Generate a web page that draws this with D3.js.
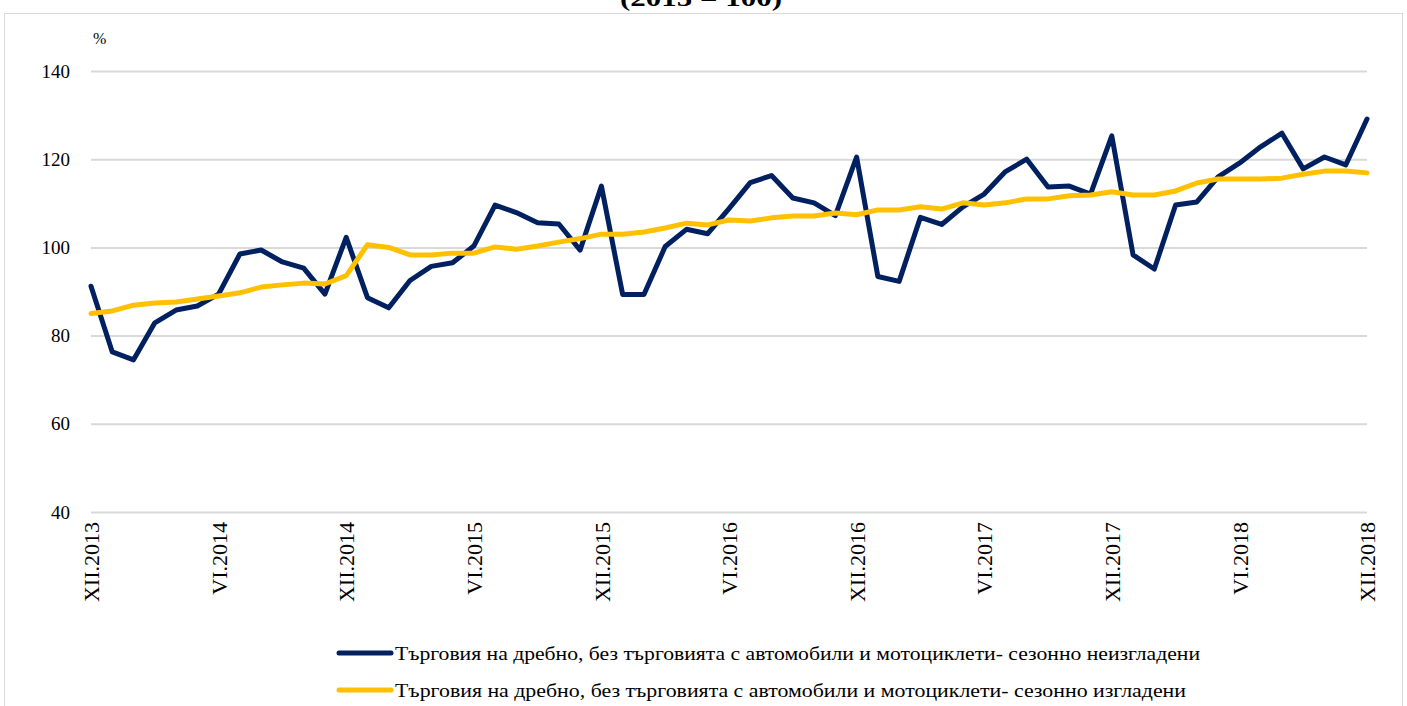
<!DOCTYPE html>
<html>
<head>
<meta charset="utf-8">
<script src="https://cdn.jsdelivr.net/npm/d3@7"></script>
<style>
  html, body { margin: 0; padding: 0; background: #fff; }
  svg { display: block; }
  text { font-family: "Liberation Serif", "Times New Roman", serif; fill: #000; }
</style>
</head>
<body>
<svg id="chart" width="1407" height="706"></svg>
<script>
// ---- data ----
const months = ["XII.2013","I.2014","II.2014","III.2014","IV.2014","V.2014","VI.2014","VII.2014","VIII.2014","IX.2014","X.2014","XI.2014",
  "XII.2014","I.2015","II.2015","III.2015","IV.2015","V.2015","VI.2015","VII.2015","VIII.2015","IX.2015","X.2015","XI.2015",
  "XII.2015","I.2016","II.2016","III.2016","IV.2016","V.2016","VI.2016","VII.2016","VIII.2016","IX.2016","X.2016","XI.2016",
  "XII.2016","I.2017","II.2017","III.2017","IV.2017","V.2017","VI.2017","VII.2017","VIII.2017","IX.2017","X.2017","XI.2017",
  "XII.2017","I.2018","II.2018","III.2018","IV.2018","V.2018","VI.2018","VII.2018","VIII.2018","IX.2018","X.2018","XI.2018","XII.2018"];
const unadjusted = [91.2,76.3,74.5,82.9,85.8,86.7,89.4,98.5,99.4,96.7,95.3,89.4,
  102.3,88.6,86.3,92.5,95.7,96.5,100.3,109.6,107.9,105.6,105.3,99.4,
  113.9,89.3,89.3,100.2,104.1,103.1,108.8,114.7,116.3,111.2,110.1,107.2,
  120.5,93.4,92.3,106.8,105.2,109.2,112.1,117.2,120.0,113.7,113.9,112.1,
  125.3,98.3,95.1,109.6,110.3,116.0,119.1,122.8,125.9,117.8,120.5,118.7,129.1];
const adjusted = [85.0,85.6,86.9,87.4,87.6,88.3,89.0,89.7,91.0,91.5,91.9,91.7,
  93.6,100.6,100.0,98.3,98.3,98.7,98.7,100.1,99.6,100.3,101.2,102.0,
  103.0,103.0,103.5,104.4,105.5,105.1,106.2,106.0,106.7,107.1,107.1,107.8,
  107.4,108.5,108.5,109.2,108.7,110.1,109.6,110.1,111.0,111.0,111.7,111.9,
  112.6,111.9,111.9,112.8,114.6,115.5,115.5,115.5,115.7,116.6,117.3,117.3,116.9];
const yTicks = [40,60,80,100,120,140];
const xTickLabels = ["XII.2013","VI.2014","XII.2014","VI.2015","XII.2015","VI.2016","XII.2016","VI.2017","XII.2017","VI.2018","XII.2018"];
const seriesNames = [
  "Търговия на дребно, без търговията с автомобили и мотоциклети- сезонно неизгладени",
  "Търговия на дребно, без търговията с автомобили и мотоциклети- сезонно изгладени"
];
const title = "(2015 = 100)";
const unit = "%";

// ---- drawing ----
const svg = d3.select("#chart");
const colors = ["#002060", "#FFC000"];

// outer border
svg.append("rect").attr("x", 4.5).attr("y", 13.5).attr("width", 1398).attr("height", 800)
  .attr("fill", "none").attr("stroke", "#d9d9d9").attr("stroke-width", 1);

// title (top partly outside the frame, as in the source)
svg.append("text").attr("x", 701).attr("y", 6).attr("text-anchor", "middle")
  .attr("textLength", 162).attr("lengthAdjust", "spacingAndGlyphs")
  .style("font-size", "24px").style("font-weight", "bold").text(title);

const x = d3.scalePoint().domain(months).range([91, 1367]);
const y = d3.scaleLinear().domain([40, 140]).range([512, 71]);

// gridlines + y labels
const yAxis = d3.axisLeft(y).tickValues(yTicks).tickSize(-(1367 - 91)).tickPadding(21);
const gy = svg.append("g").attr("transform", "translate(91,0)").call(yAxis);
gy.select(".domain").remove();
gy.selectAll(".tick line").attr("stroke", "#d9d9d9").attr("stroke-width", 2);
gy.selectAll(".tick text").style("font-size", "19px").style("font-family", "Liberation Serif").attr("fill", "#000");

// unit
svg.append("text").attr("x", 93).attr("y", 44).style("font-size", "16px").text(unit);

// x axis labels
const xAxis = d3.axisBottom(x).tickValues(xTickLabels).tickSize(0).tickPadding(0);
const gx = svg.append("g").attr("transform", "translate(0,512)").call(xAxis);
gx.select(".domain").remove();
gx.selectAll(".tick text")
  .style("font-size", "22px").style("font-family", "Liberation Serif").attr("fill", "#000")
  .attr("transform", "rotate(-90)")
  .attr("x", -10).attr("y", 0).attr("dy", "0.35em")
  .attr("text-anchor", "end");

// lines
const line = d3.line().x((d, i) => x(months[i])).y(d => y(d));
[unadjusted, adjusted].forEach((s, k) => {
  svg.append("path").datum(s).attr("d", line)
    .attr("fill", "none").attr("stroke", colors[k]).attr("stroke-width", 5)
    .attr("stroke-linejoin", "round").attr("stroke-linecap", "round");
});

// legend
const legY = [653, 690];
const legW = [805, 791];
seriesNames.forEach((n, k) => {
  svg.append("line").attr("x1", 339).attr("x2", 391).attr("y1", legY[k]).attr("y2", legY[k])
    .attr("stroke", colors[k]).attr("stroke-width", 5).attr("stroke-linecap", "round");
  svg.append("text").attr("x", 395).attr("y", legY[k]).attr("dy", "0.35em")
    .attr("textLength", legW[k]).attr("lengthAdjust", "spacingAndGlyphs")
    .style("font-size", "19px").text(n);
});
</script>
</body>
</html>
